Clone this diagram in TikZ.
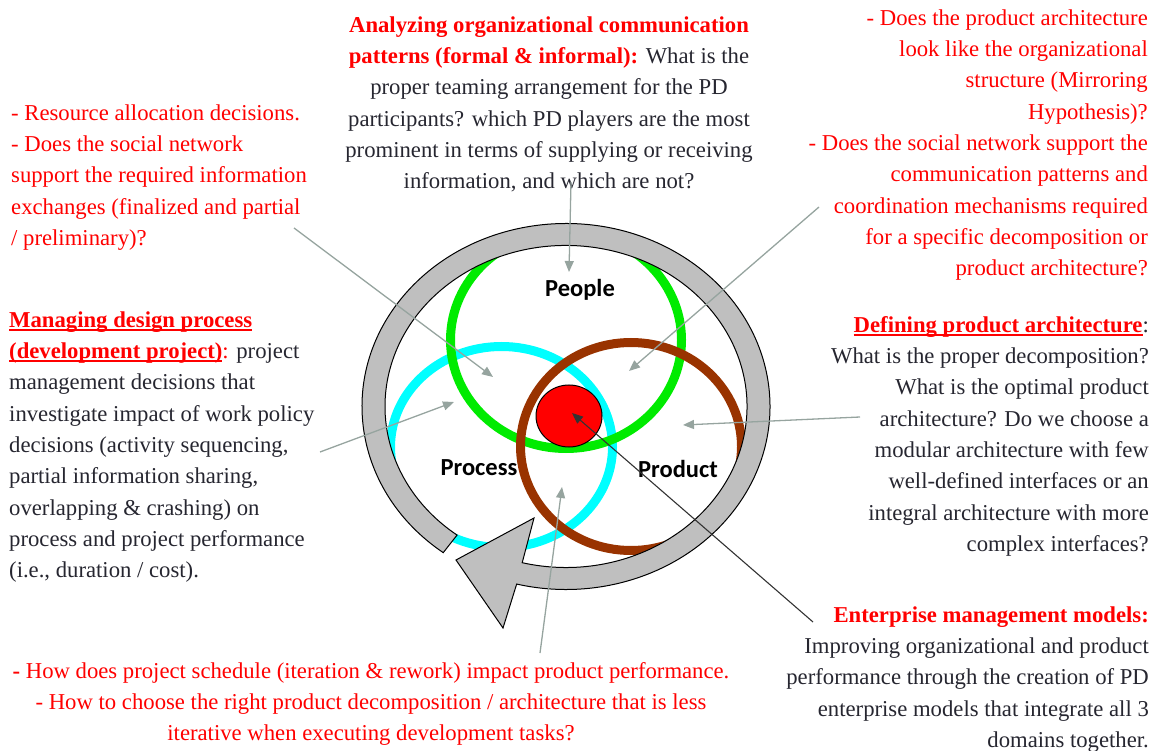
\documentclass[tikz,border=0pt]{standalone}
\usepackage{fontspec}
\setmainfont{Liberation Serif}
\newfontfamily\calibri{Carlito}
\usetikzlibrary{arrows.meta}

\definecolor{txtgray}{RGB}{38,38,48}
\definecolor{qred}{RGB}{255,0,0}
\definecolor{pplgreen}{RGB}{0,235,0}
\definecolor{prccyan}{RGB}{0,255,255}
\definecolor{prdbrown}{RGB}{153,51,0}
\definecolor{ringgray}{RGB}{191,191,191}
\definecolor{linkgray}{RGB}{150,164,159}

% red underline sitting just below the baseline
\newcommand{\ulred}[1]{\setbox0\hbox{#1}\rlap{\rule[-3.5pt]{\wd0}{1.8pt}}\box0}

\tikzset{
    txt/.style={inner sep=0pt, font=\fontsize{22.7}{31.3}\selectfont, text=txtgray},
    qtxt/.style={txt, text=qred},
    domlabel/.style={inner sep=0pt, anchor=base, font=\calibri\bfseries\fontsize{24.5}{28}\selectfont},
    domring/.style={line width=9pt},
    link/.style={draw=linkgray, line width=1.3pt, -{Triangle[length=11pt,width=9pt]}},
}

\begin{document}
\begin{tikzpicture}[x=1pt,y=1pt]
            \useasboundingbox (0,0) rectangle (1155,750);

            % the three domains
            \draw[domring, prccyan] (501.5,303) ellipse [x radius=111, y radius=100.5];
            \draw[domring, pplgreen] (566,410) ellipse [x radius=115.5, y radius=108.5];
            \draw[domring, prdbrown] (631,303.5) ellipse [x radius=110.5, y radius=104];

            % iteration ring with its head
            \draw[fill=ringgray, line width=1pt, line join=miter]
                (566,343.5) ++(233:204 and 183)
                arc[start angle=233, end angle=-104, x radius=204, y radius=183]
                -- (503,122) -- (456,190) -- (534,232) -- (522.2,187.3)
                arc[start angle=-104, end angle=233, x radius=181, y radius=161]
                -- cycle;

            \draw[fill=qred, line width=1pt] (569,334) ellipse [x radius=33, y radius=31];

            \node[domlabel] (people) at (580,453.3) {People};
            \node[domlabel] (process) at (479,275) {Process};
            \node[domlabel] (product) at (678,272.3) {Product};

            % questions around the rings
            \node[txt, anchor=north, align=center] (organize) at (549,739.9) {\strut\textcolor{qred}{\textbf{Analyzing organizational communication}}\\
                \textcolor{qred}{\textbf{patterns (formal \& informal):}} What is the\\
                proper teaming arrangement  for the PD\\
                participants? which PD players are the most\\
                prominent in terms of supplying or receiving\\
                information, and which are not?};
            \node[qtxt, anchor=north west, align=left] (resource) at (11,651.9) {\strut- Resource allocation decisions.\\
                - Does the social network\\
                support the required information\\
                exchanges (finalized  and partial\\
                / preliminary)?};
            \node[qtxt, anchor=north east, align=right] (mirror) at (1148,746.9) {\strut- Does the product architecture\\
                look like the organizational\\
                structure (Mirroring\\
                Hypothesis)?\\
                - Does the social network support the\\
                communication patterns and\\
                coordination mechanisms required\\
                for a specific decomposition or\\
                product architecture?};
            \node[txt, anchor=north west, align=left] (manage) at (9,444.9) {\strut\textcolor{qred}{\textbf{\ulred{Managing design process}}}\\
                \textcolor{qred}{\textbf{\ulred{(development project)}}:} project\\
                management  decisions that\\
                investigate  impact of work policy\\
                decisions (activity  sequencing,\\
                partial information  sharing,\\
                overlapping \& crashing) on\\
                process and project performance\\
                (i.e., duration / cost).};
            \node[txt, anchor=north east, align=right] (define) at (1149,439.9) {\strut\textcolor{qred}{\textbf{\ulred{Defining product architecture}}}:\\
                What is the proper decomposition?\\
                What is the optimal product\\
                architecture? Do we choose a\\
                modular architecture with few\\
                well-defined  interfaces or an\\
                integral architecture with more\\
                complex interfaces?};
            \node[txt, anchor=north east, align=right] (enterprise) at (1149,149.9) {\strut\textcolor{qred}{\textbf{Enterprise management models:}}\\
                Improving organizational  and product\\
                performance through the creation of PD\\
                enterprise models that integrate all 3\\
                domains together.};
            \node[qtxt, anchor=north, align=center] (schedule) at (371,93.9) {\strut\textbf{-} How does project schedule (iteration  \& rework) impact product performance.\\
                - How to choose the right product decomposition / architecture that is less\\
                iterative  when executing development tasks?};

            % where the pointers start and end
            \coordinate (orgQ) at (571,568);
            \coordinate (orgA) at (569,478);
            \coordinate (resQ) at (294,522);
            \coordinate (resA) at (493,373);
            \coordinate (mirQ) at (819,543);
            \coordinate (mirA) at (629,379);
            \coordinate (mgtQ) at (320,298);
            \coordinate (mgtA) at (454,348);
            \coordinate (defQ) at (860,333);
            \coordinate (defA) at (683,325);
            \coordinate (schQ) at (540,97);
            \coordinate (schA) at (562,263);
            \coordinate (entQ) at (813,128);
            \coordinate (entA) at (572,337);

            \draw[link] (orgQ) -- (orgA);
            \draw[link] (resQ) -- (resA);
            \draw[link] (mirQ) -- (mirA);
            \draw[link] (mgtQ) -- (mgtA);
            \draw[link] (defQ) -- (defA);
            \draw[link] (schQ) -- (schA);
            \draw[draw=black!80, line width=1.1pt, -{Triangle[length=11pt,width=9pt]}] (entQ) -- (entA);
        \end{tikzpicture}
\end{document}
